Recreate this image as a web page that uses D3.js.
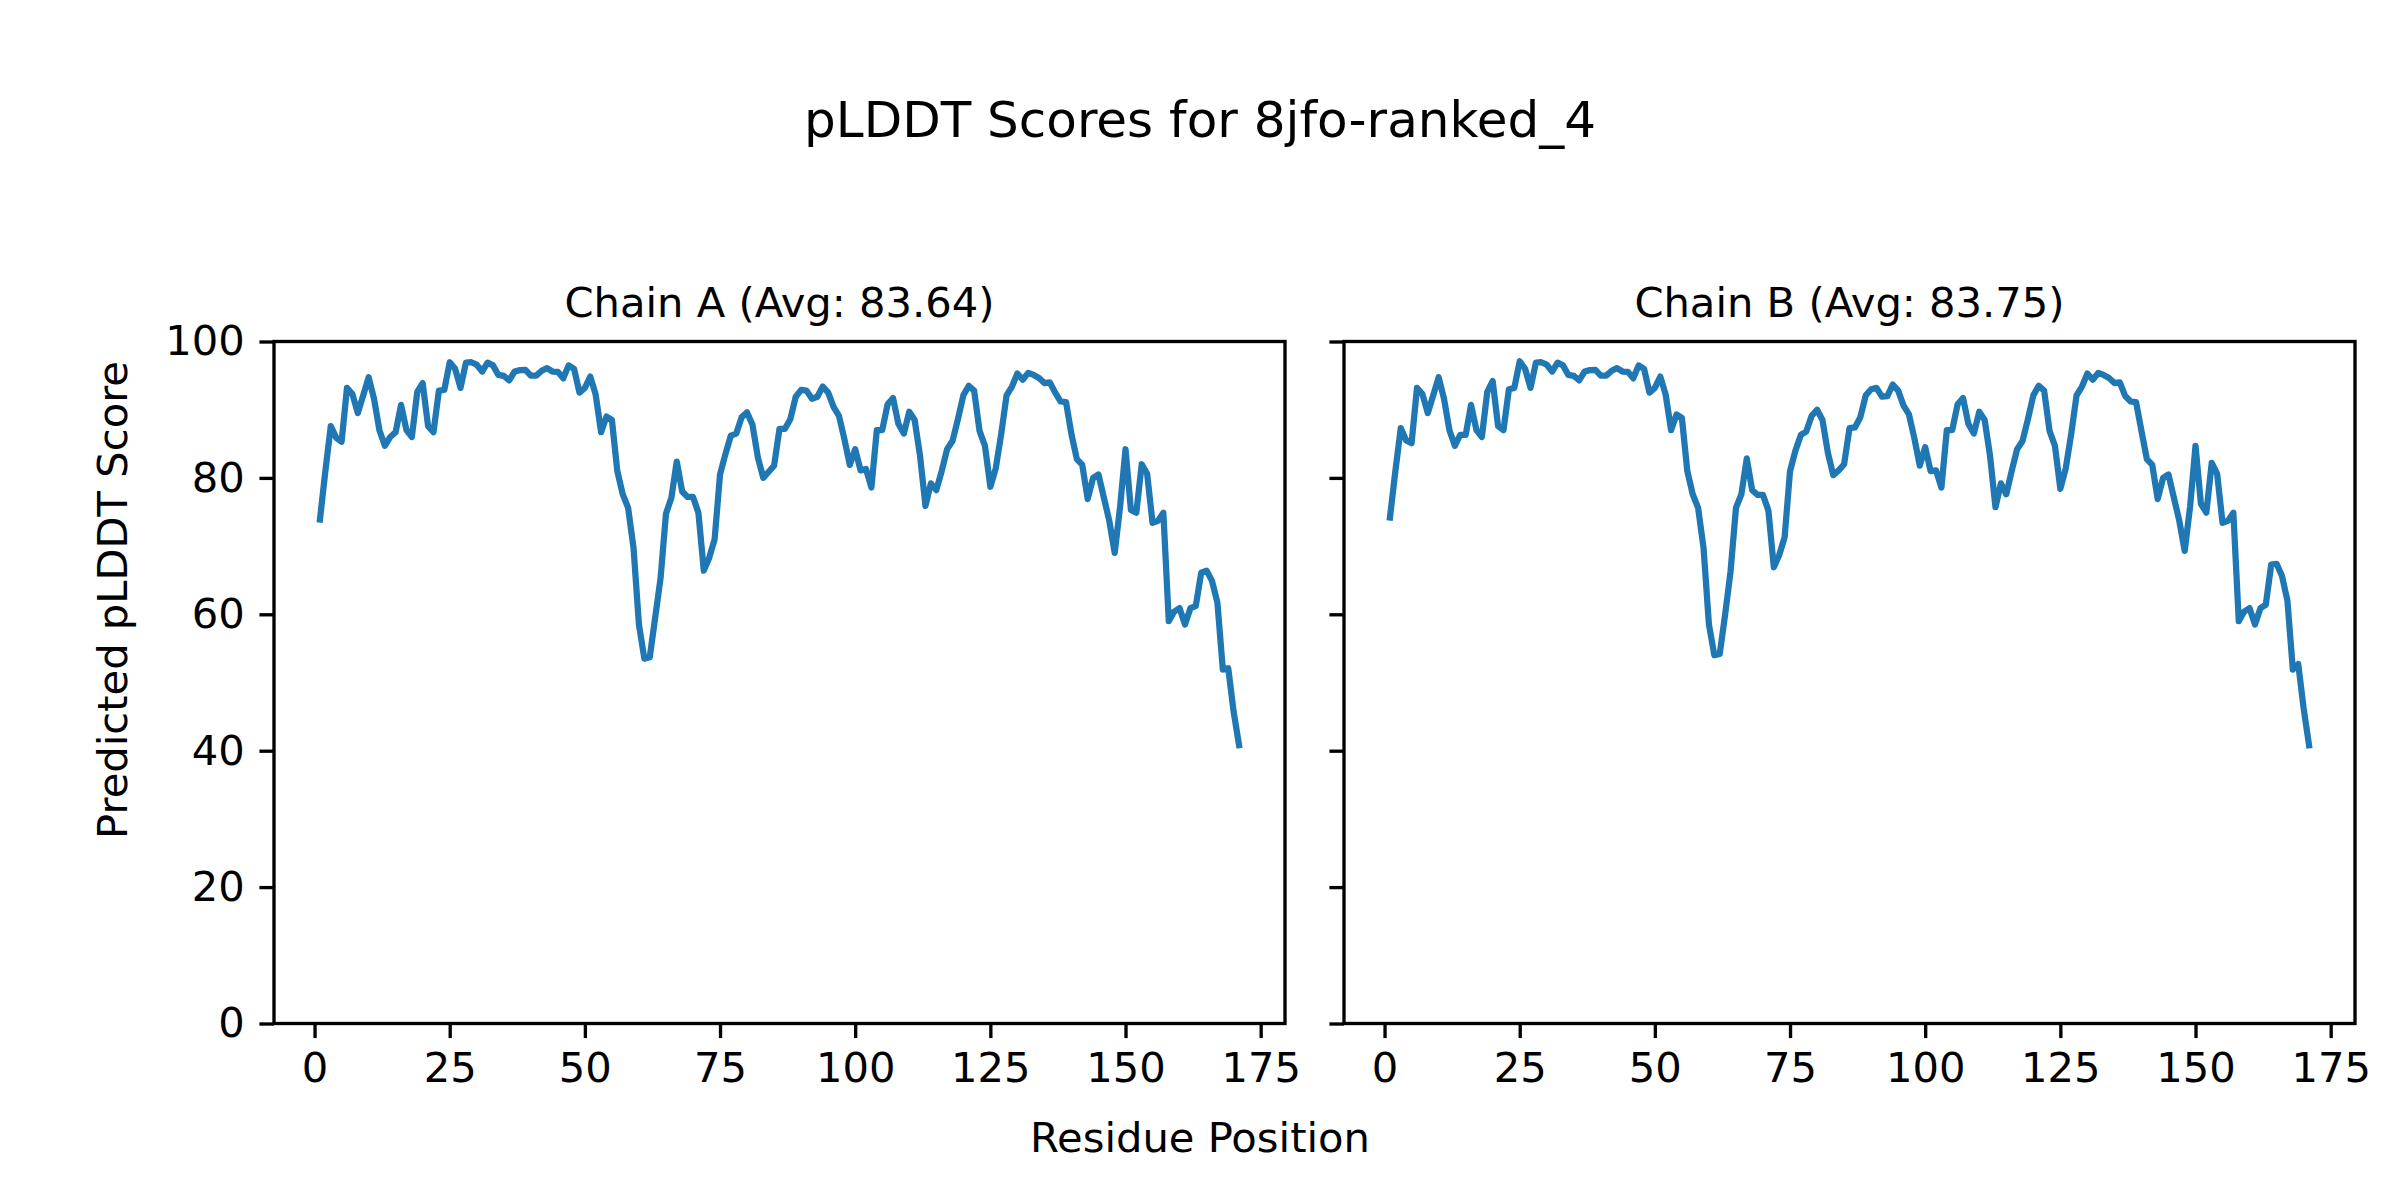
<!DOCTYPE html>
<html>
<head>
<meta charset="utf-8">
<script src="https://cdn.jsdelivr.net/npm/d3@7"></script>
<style>
    body { margin: 0; background: #fff; }
    text { font-family: "DejaVu Sans", sans-serif; fill: #000; }
</style>
</head>
<body>
<div id="chart"></div>
<script>
// pLDDT per residue
const chainA = [
    73.9, 81.0, 87.6, 85.9, 85.3, 93.2, 92.3, 89.5, 92.1, 94.75,
    91.6, 87.0, 84.7, 86.0, 86.7, 90.7, 87.0, 86.0, 92.6, 93.9,
    87.6, 86.7, 92.8, 92.9, 96.96, 96.0, 93.2, 96.9, 96.96, 96.6,
    95.6, 96.9, 96.5, 95.1, 94.95, 94.3, 95.6, 95.8, 95.85, 95.0,
    95.0, 95.7, 96.1, 95.6, 95.55, 94.6, 96.5, 96.0, 92.5, 93.2,
    94.85, 92.2, 86.7, 89.0, 88.5, 81.0, 77.6, 75.6, 69.75, 58.5,
    53.5, 53.7, 59.5, 65.3, 74.75, 77.1, 82.4, 78.0, 77.2, 77.2,
    74.9, 66.4, 68.3, 71.0, 80.5, 83.5, 86.2, 86.5, 88.9, 89.6,
    87.8, 83.0, 80.0, 80.9, 81.8, 87.2, 87.2, 88.6, 91.9, 92.9,
    92.8, 91.6, 91.9, 93.4, 92.5, 90.4, 89.1, 85.7, 81.9, 84.2,
    81.1, 81.3, 78.6, 87.0, 87.0, 90.8, 91.7, 87.9, 86.5, 89.7,
    88.5, 83.2, 75.9, 79.2, 78.2, 81.0, 84.2, 85.4, 88.6, 92.1,
    93.5, 92.8, 86.9, 84.7, 78.7, 81.4, 86.4, 92.1, 93.4, 95.3,
    94.4, 95.4, 95.1, 94.65, 93.9, 94.0, 92.5, 91.2, 91.1, 86.4,
    82.75, 81.9, 76.9, 80.0, 80.5, 77.1, 73.7, 69.0, 75.8, 84.2,
    75.3, 74.9, 82.0, 80.6, 73.4, 73.7, 74.9, 59.0, 60.4, 60.9,
    58.5, 60.9, 61.2, 66.1, 66.4, 64.9, 61.7, 51.9, 52.1, 45.7,
    40.8
];

const chainB = [
    74.2, 81.0, 87.3, 85.5, 85.1, 93.2, 92.3, 89.5, 92.1, 94.75,
    91.6, 87.0, 84.7, 86.3, 86.3, 90.7, 87.0, 86.0, 92.6, 94.2,
    87.6, 87.0, 93.0, 93.2, 97.1, 96.0, 93.2, 96.9, 96.96, 96.6,
    95.6, 96.9, 96.5, 95.1, 94.95, 94.3, 95.6, 95.8, 95.85, 95.0,
    95.0, 95.7, 96.1, 95.6, 95.55, 94.6, 96.5, 96.0, 92.5, 93.2,
    94.85, 92.2, 87.0, 89.3, 88.8, 81.0, 77.6, 75.6, 69.75, 58.5,
    54.0, 54.2, 60.0, 66.3, 75.6, 77.6, 82.85, 78.2, 77.5, 77.5,
    75.2, 66.9, 68.7, 71.3, 81.0, 84.0, 86.3, 86.8, 89.1, 90.0,
    88.5, 83.7, 80.4, 81.1, 82.0, 87.3, 87.4, 88.9, 92.1, 93.0,
    93.2, 91.9, 92.0, 93.7, 92.8, 90.6, 89.3, 85.8, 81.8, 84.5,
    81.0, 81.1, 78.6, 87.0, 87.0, 90.8, 91.7, 87.9, 86.5, 89.7,
    88.5, 83.2, 75.7, 79.2, 77.6, 81.0, 84.2, 85.4, 88.6, 92.1,
    93.5, 92.8, 86.9, 84.7, 78.4, 81.4, 86.4, 92.1, 93.4, 95.3,
    94.4, 95.4, 95.1, 94.65, 93.9, 94.0, 92.0, 91.2, 91.1, 86.9,
    82.75, 81.9, 76.9, 80.0, 80.5, 77.1, 73.7, 69.3, 75.8, 84.7,
    76.2, 74.9, 82.2, 80.6, 73.4, 73.7, 74.9, 59.0, 60.4, 60.9,
    58.5, 60.9, 61.4, 67.3, 67.4, 65.6, 62.0, 51.9, 52.7, 46.2,
    40.8
];

const chainNames = ["Chain A", "Chain B"];
const chainAvgs = ["83.64", "83.75"];
const xTicks = [0, 25, 50, 75, 100, 125, 150, 175];
const yTicks = [0, 20, 40, 60, 80, 100];

const title = "pLDDT Scores for 8jfo-ranked_4";
const xLabel = "Residue Position";
const yLabel = "Predicted pLDDT Score";

const width = 2400;
const height = 1200;
const pt = 300 / 72;

const svg = d3.select("#chart")
    .append("svg")
    .attr("width", width)
    .attr("height", height)
    .attr("viewBox", `0 0 ${width} ${height}`);

svg.append("rect")
    .attr("width", width)
    .attr("height", height)
    .attr("fill", "#fff");

const plotTop = 341.5;
const plotBottom = 1023.5;
const panelLeft = [274, 1344];
const panelWidth = 1011;

const y = d3.scaleLinear()
    .domain([0, 100])
    .range([plotBottom, plotTop]);

const series = [chainA, chainB];

series.forEach((values, i) => {
    const residues = values.map((_, k) => k + 1);
    const x = d3.scaleLinear()
        .domain([-7.5, 179.5])
        .range([panelLeft[i], panelLeft[i] + panelWidth]);

    const g = svg.append("g");

    const xAxis = g.append("g")
        .attr("transform", `translate(0, ${plotBottom})`)
        .call(d3.axisBottom(x)
            .tickValues(xTicks)
            .tickSize(3.5 * pt)
            .tickSizeOuter(0)
            .tickPadding(3.5 * pt));

    const yAxis = g.append("g")
        .attr("transform", `translate(${panelLeft[i]}, 0)`)
        .call(d3.axisLeft(y)
            .tickValues(yTicks)
            .tickSize(3.5 * pt)
            .tickSizeOuter(0)
            .tickPadding(3.5 * pt)
            .tickFormat(i === 0 ? d3.format("d") : () => ""));

    [xAxis, yAxis].forEach(ax => {
        ax.select(".domain").remove();
        ax.selectAll(".tick line")
            .attr("stroke", "#000")
            .attr("stroke-width", 0.8 * pt);
        ax.selectAll(".tick text")
            .attr("font-size", 10 * pt)
            .attr("font-family", "DejaVu Sans");
    });

    const line = d3.line()
        .x((d, k) => x(residues[k]))
        .y(d => y(d));

    g.append("path")
        .datum(values)
        .attr("d", line)
        .attr("fill", "none")
        .attr("stroke", "#1f77b4")
        .attr("stroke-width", 1.5 * pt)
        .attr("stroke-linejoin", "round")
        .attr("stroke-linecap", "square");

    g.append("rect")
        .attr("x", panelLeft[i])
        .attr("y", plotTop)
        .attr("width", panelWidth)
        .attr("height", plotBottom - plotTop)
        .attr("fill", "none")
        .attr("stroke", "#000")
        .attr("stroke-width", 0.8 * pt);

    g.append("text")
        .attr("x", panelLeft[i] + panelWidth / 2)
        .attr("y", plotTop - 6 * pt)
        .attr("text-anchor", "middle")
        .attr("font-size", 10 * pt)
        .text(`${chainNames[i]} (Avg: ${chainAvgs[i]})`);
});

svg.append("text")
    .attr("x", width / 2)
    .attr("y", 137)
    .attr("text-anchor", "middle")
    .attr("font-size", 12 * pt)
    .text(title);

svg.append("text")
    .attr("x", width / 2)
    .attr("y", 1152)
    .attr("text-anchor", "middle")
    .attr("font-size", 10 * pt)
    .text(xLabel);

svg.append("text")
    .attr("transform", `translate(127, ${height / 2}) rotate(-90)`)
    .attr("text-anchor", "middle")
    .attr("font-size", 10 * pt)
    .text(yLabel);
</script>
</body>
</html>
